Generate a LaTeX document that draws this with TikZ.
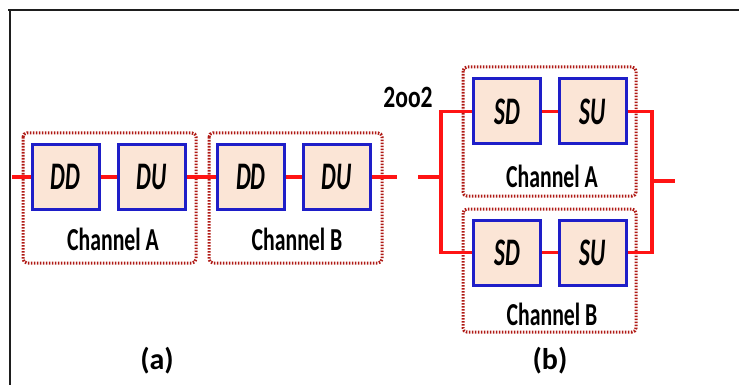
\documentclass[tikz,border=0pt]{standalone}
\usepackage{fontspec}
\setmainfont{Carlito}
\newfontfamily\chfont[FakeStretch=0.68]{Carlito}
\newfontfamily\blkfont[FakeStretch=0.6]{Carlito}
\newfontfamily\votefont[FakeStretch=0.76]{Carlito}
\definecolor{blkfill}{RGB}{251,229,214}
\definecolor{blkedge}{RGB}{30,30,200}
\definecolor{wirered}{RGB}{255,20,20}
\definecolor{chanred}{RGB}{175,25,20}
\definecolor{framegray}{RGB}{30,30,30}
\begin{document}
\begin{tikzpicture}[x=1pt,y=-1pt,
  block/.style={draw=blkedge,line width=3pt,fill=blkfill,minimum width=67pt,minimum height=65pt,inner sep=0pt,
    font=\blkfont\bfseries\itshape\fontsize{39}{41}\selectfont},
  chanbox/.style={draw=chanred,line width=3pt,dash pattern=on 1.6pt off 1.4pt,rounded corners=4pt},
  chanlabel/.style={anchor=base,inner sep=0pt,font=\chfont\bfseries\fontsize{32}{34}\selectfont},
  wire/.style={draw=wirered,line width=3.5pt},
  caption/.style={inner sep=0pt,font=\bfseries\fontsize{30}{32}\selectfont}]
\useasboundingbox (0,0) rectangle (739,385);
% outer frame
\draw[framegray,line width=2.2pt] (8,10) -- (739,10);
\draw[framegray,line width=2.6pt] (10,10) -- (10,385);

% ---------- (a) series arrangement ----------
\draw[chanbox] (23,133) rectangle (196,263);
\draw[chanbox] (209,133) rectangle (382,263);
\node[chanlabel] (lblAa) at (113,250) {Channel A};
\node[chanlabel] (lblAb) at (297,250) {Channel B};

\coordinate (ain) at (12,177);
\coordinate (aout) at (397,177);
\node[block] (DD1) at (65.5,177) {DD};
\node[block] (DU1) at (151.5,177) {DU};
\node[block] (DD2) at (251,177) {DD};
\node[block] (DU2) at (337,177) {DU};
\draw[wire] (ain) -- (DD1.west);
\draw[wire] (DD1.east) -- (DU1.west);
\draw[wire] (DU1.east) -- (DD2.west);
\draw[wire] (DD2.east) -- (DU2.west);
\draw[wire] (DU2.east) -- (aout);

% ---------- (b) 2oo2 parallel arrangement ----------
\draw[chanbox] (463,67) rectangle (636,196);
\draw[chanbox] (463,209) rectangle (636,332);
\node[chanlabel] (lblBa) at (552,187) {Channel A};
\node[chanlabel] (lblBb) at (552,325) {Channel B};
\node[anchor=base,inner sep=0pt,font=\votefont\bfseries\fontsize{31}{33}\selectfont] (vote) at (408,108) {2oo2};

\node[block] (SDa) at (507,111.5) {SD};
\node[block] (SUa) at (592.5,111.5) {SU};
\node[block] (SDb) at (507,252.5) {SD};
\node[block] (SUb) at (592.5,252.5) {SU};

\coordinate (bin) at (418,177);
\coordinate (bsplit) at (441,177);
\coordinate (bjoin) at (652,181);
\coordinate (bout) at (675,181);
\draw[wire] (bin) -- (bsplit);
\draw[wire] (SDa.west) -| (bsplit) |- (SDb.west);
\draw[wire] (SDa.east) -- (SUa.west);
\draw[wire] (SDb.east) -- (SUb.west);
\draw[wire] (SUa.east) -| (bjoin) |- (SUb.east);
\draw[wire] (bjoin) -- (bout);

% captions
\node[caption] (capa) at (157,361) {(a)};
\node[caption] (capb) at (550,361) {(b)};
\end{tikzpicture}
\end{document}
